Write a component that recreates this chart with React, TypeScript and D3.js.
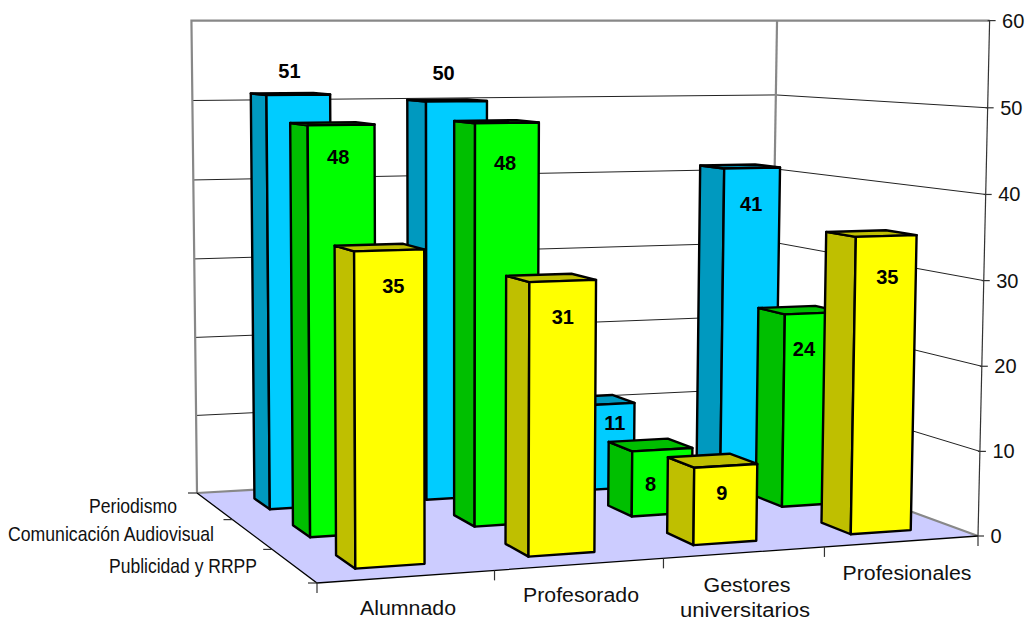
import React from "react";
import * as d3 from "d3";

const categories = ["Alumnado", "Profesorado", "Gestores universitarios", "Profesionales"];
const seriesNames = ["Periodismo", "Comunicación Audiovisual", "Publicidad y RRPP"];
const periodismo = [51, 50, 11, 41];
const comunicacion = [48, 48, 8, 24];
const publicidad = [35, 31, 9, 35];
const seriesValues = [periodismo, comunicacion, publicidad];
const valueTicks = [0, 10, 20, 30, 40, 50, 60];

const frontFaces = ["#00CCFF", "#00FF00", "#FFFF00"];
const sideFaces = ["#0099BF", "#00BF00", "#BFBF00"];
const FONT = "'Liberation Sans', Arial, sans-serif";

type Pt = [number, number];

// Corners of the floor on screen
const floorFL: Pt = [317, 583];
const floorFR: Pt = [978, 536];
const floorBR: Pt = [770, 460];
const floorBL: Pt = [197, 493];
// The top of the box collapses onto the eye-level line
const horizonY = 20.6;
const verticalLean = 0.022;
const leanCentre = 450;
const heightEase = 0.018;

// Homography from the unit floor (u across, v into the page) to the screen
function buildFloor() {
  const [x0, y0] = floorFL, [x1, y1] = floorFR, [x2, y2] = floorBR, [x3, y3] = floorBL;
  const dx1 = x1 - x2, dx2 = x3 - x2, sx = x0 - x1 + x2 - x3;
  const dy1 = y1 - y2, dy2 = y3 - y2, sy = y0 - y1 + y2 - y3;
  const den = dx1 * dy2 - dx2 * dy1;
  const g = (sx * dy2 - dx2 * sy) / den;
  const h = (dx1 * sy - sx * dy1) / den;
  return (u: number, v: number): Pt => {
    const w = g * u + h * v + 1;
    return [
      ((x1 - x0 + g * x1) * u + (x3 - x0 + h * x3) * v + x0) / w,
      ((y1 - y0 + g * y1) * u + (y3 - y0 + h * y3) * v + y0) / w,
    ];
  };
}
const floor = buildFloor();

// Lift a floor point towards eye level, leaning slightly away from the centre
const project = (u: number, y: number, v: number): Pt => {
  const [fx, fy] = floor(u, v);
  const t = y * (1 - heightEase) + heightEase * y * y;
  return [fx + t * (fx - leanCentre) * verticalLean, fy + t * (horizonY - fy)];
};

const heightScale = d3.scaleLinear().domain([0, 60]).range([0, 1]);
const catScale = d3.scaleBand<string>().domain(categories).range([-0.0015, 1.0035]).paddingInner(0.606).paddingOuter(0.3);
const rowScale = d3.scaleBand<string>().domain(seriesNames).range([0.9945, 0]).paddingInner(0.588).paddingOuter(0.31);
const catEdges = d3.range(categories.length + 1).map((i) => i / categories.length);
const rowEdges = d3.range(seriesNames.length + 1).map((i) => i / seriesNames.length);

const poly = d3.line<Pt>();
const closed = (pts: Pt[]) => poly(pts) + "Z";

// Offsets of each value label from the top centre of the bar's front face
const labelOffsets: Pt[][] = [
  [[-9, -24], [-13, -28], [9, 19], [-1, 36]],
  [[-3, 32], [-2, 40], [-12, 34], [-10, 36]],
  [[4, 36], [0, 36], [-4, 27], [1, 41]],
];

// Left-hand axis labels sit on the box's depth edge, compressed horizontally
const rowLabelLayout = [
  { x: 177, y: 512.5, w: 88 },
  { x: 214, y: 541, w: 206 },
  { x: 257, y: 573, w: 148 },
];
const catLabelLayout = [
  { lines: ["Alumnado"], xs: [408], y: 615, w: [96] },
  { lines: ["Profesorado"], xs: [581], y: 602, w: [116] },
  { lines: ["Gestores", "universitarios"], xs: [747, 745], y: 592, w: [87, 130] },
  { lines: ["Profesionales"], xs: [907], y: 580, w: [129] },
];

function Bar({ s, c }: { s: number; c: number }) {
  const value = seriesValues[s][c];
  const h = heightScale(value);
  const u0 = catScale(categories[c])!;
  const u1 = u0 + catScale.bandwidth();
  const v0 = rowScale(seriesNames[s])!;
  const v1 = v0 + rowScale.bandwidth();
  const stroke = { stroke: "#000", strokeWidth: 2.4, strokeLinejoin: "round" as const };
  const front = [project(u0, 0, v0), project(u1, 0, v0), project(u1, h, v0), project(u0, h, v0)];
  const side = [project(u0, 0, v1), project(u0, 0, v0), project(u0, h, v0), project(u0, h, v1)];
  const top = [project(u0, h, v0), project(u1, h, v0), project(u1, h, v1), project(u0, h, v1)];
  return (
    <g>
      <path d={closed(side)} fill={sideFaces[s]} {...stroke} />
      <path d={closed(top)} fill={sideFaces[s]} {...stroke} />
      <path d={closed(front)} fill={frontFaces[s]} {...stroke} />
    </g>
  );
}

function BarLabel({ s, c }: { s: number; c: number }) {
  const value = seriesValues[s][c];
  const h = heightScale(value);
  const u0 = catScale(categories[c])!;
  const v0 = rowScale(seriesNames[s])!;
  const [px, py] = project(u0 + catScale.bandwidth() / 2, h, v0);
  const [ox, oy] = labelOffsets[s][c];
  return (
    <text x={px + ox} y={py + oy} textAnchor="middle" dominantBaseline="central"
      fontFamily={FONT} fontWeight="bold" fontSize={20} fill="#000">
      {value}
    </text>
  );
}

export default function App() {
  const grid = { stroke: "#222", strokeWidth: 1, fill: "none" };
  const wall = { stroke: "#888", strokeWidth: 2.2, fill: "none" };
  const axis = { stroke: "#333", strokeWidth: 1.2, fill: "none" };
  const seg = (a: Pt, b: Pt) => poly([a, b])!;
  return (
    <svg width={1029} height={621} style={{ position: "absolute", left: 0, top: 0, display: "block", background: "#fff" }}>
      {/* Floor */}
      <path d={closed([project(0, 0, 0), project(1, 0, 0), project(1, 0, 1), project(0, 0, 1)])} fill="#CCCCFF" />

      {/* Gridlines along the back and right walls */}
      {valueTicks.filter((t) => t > 0 && t < 60).map((t) => {
        const y = heightScale(t);
        return (
          <g key={t}>
            <path d={seg(project(0, y, 1), project(1, y, 1))} {...grid} />
            <path d={seg(project(1, y, 1), project(1, y, 0))} {...grid} />
          </g>
        );
      })}

      {/* Wall edges */}
      <path d={poly([project(0, 0, 1), project(0, 1, 1), project(1, 1, 1), project(1, 1, 0)])!} {...wall} />
      <path d={seg(project(1, 1, 1), project(1, 0, 1))} {...wall} />
      <path d={poly([project(0, 0, 1), project(1, 0, 1), project(1, 0, 0)])!} {...wall} />

      {/* Depth axis and category axis along the floor */}
      <path d={poly([project(0, 0, 1), project(0, 0, 0), project(1, 0, 0)])!} stroke="#000" strokeWidth={1.3} fill="none" />
      {rowEdges.map((v) => {
        const [x, y] = project(0, 0, v);
        return <path key={v} d={seg([x - 9, y], [x, y])} {...axis} />;
      })}
      {catEdges.map((u) => {
        const [x, y] = project(u, 0, 0);
        return <path key={u} d={seg([x, y], [x, y + 10])} {...axis} />;
      })}

      {/* Value axis on the right corner */}
      <path d={seg(project(1, 0, 0), project(1, 1, 0))} {...axis} />
      {valueTicks.map((t) => {
        const [x, y] = project(1, heightScale(t), 0);
        return (
          <g key={t}>
            <path d={seg([x - 2, y], [x + 6, y])} {...axis} />
            <text x={x + 12.5} y={y} dominantBaseline="central" fontFamily={FONT} fontSize={20} fill="#111">{t}</text>
          </g>
        );
      })}

      {/* Bars, back row first, right to left within a row */}
      {seriesNames.map((_, s) =>
        categories.map((_, i) => {
          const c = categories.length - 1 - i;
          return <Bar key={`${s}-${c}`} s={s} c={c} />;
        })
      )}
      {seriesNames.map((_, s) => categories.map((_, c) => <BarLabel key={`${s}-${c}`} s={s} c={c} />))}

      {/* Axis labels */}
      {seriesNames.map((name, i) => {
        const l = rowLabelLayout[i];
        return (
          <text key={name} x={l.x - l.w} y={l.y} fontFamily={FONT} fontSize={21} fill="#111"
            textLength={l.w} lengthAdjust="spacingAndGlyphs">{name}</text>
        );
      })}
      {catLabelLayout.map((l) =>
        l.lines.map((line, j) => (
          <text key={line} x={l.xs[j] - l.w[j] / 2} y={l.y + j * 25} fontFamily={FONT} fontSize={20} fill="#111"
            textLength={l.w[j]} lengthAdjust="spacingAndGlyphs">{line}</text>
        ))
      )}
    </svg>
  );
}
